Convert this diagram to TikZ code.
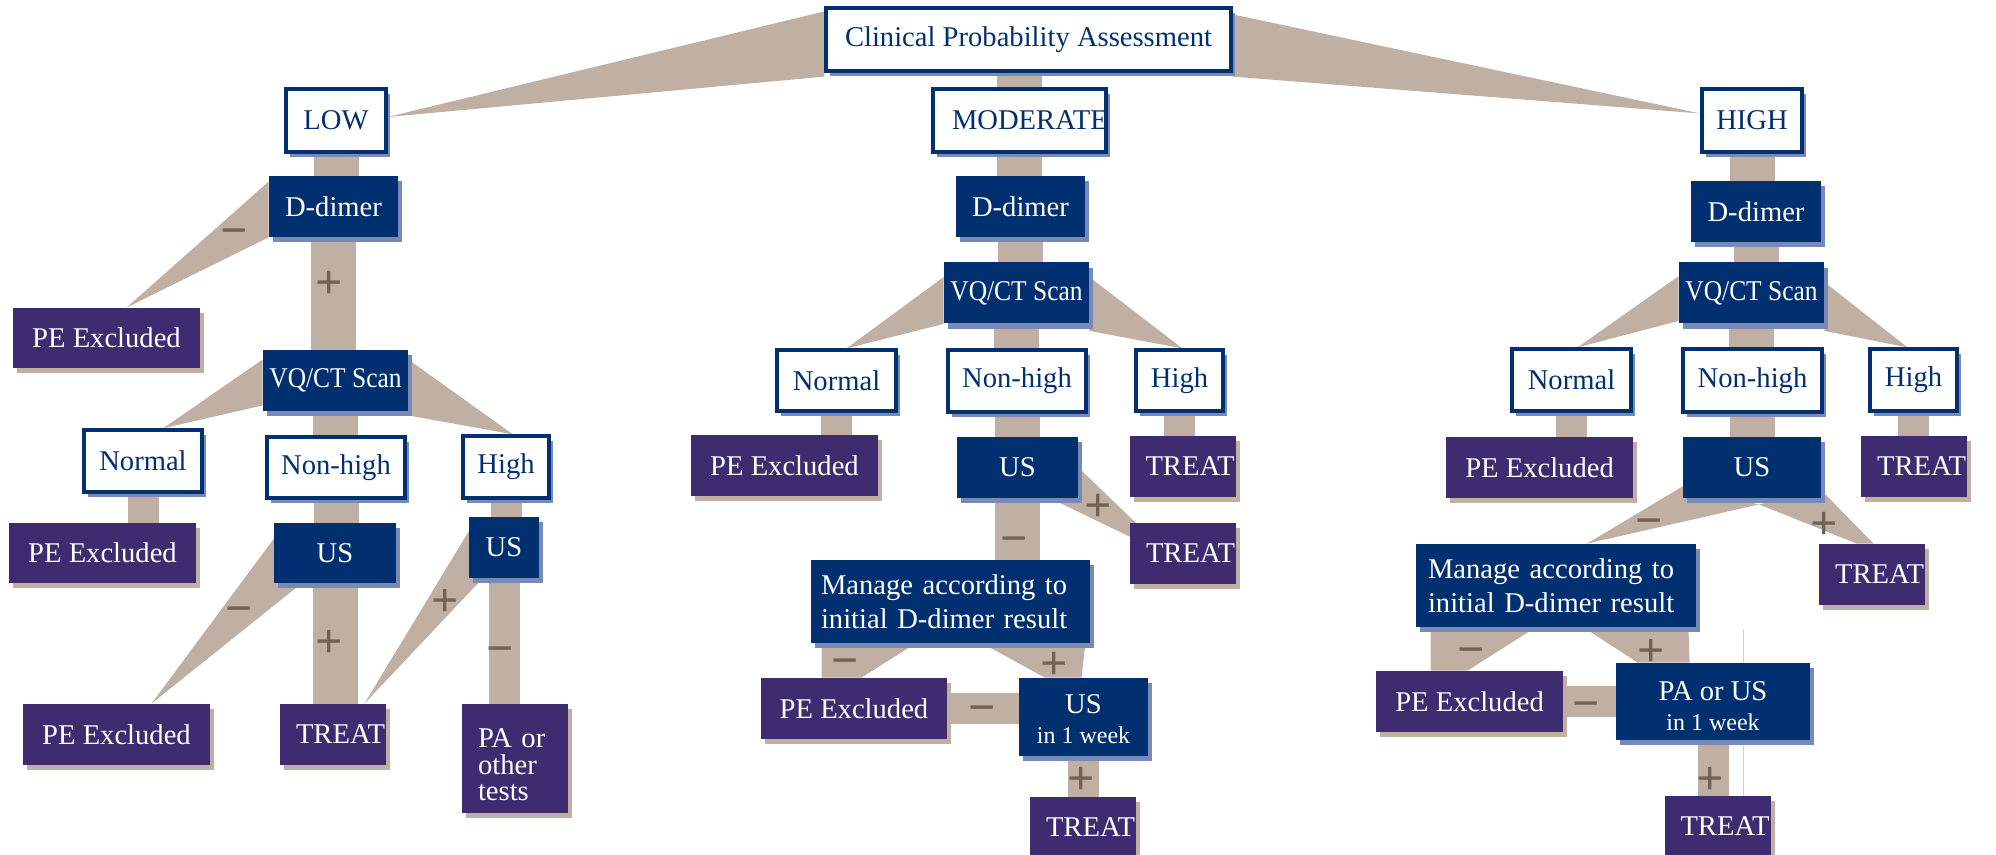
\documentclass[tikz,border=0pt]{standalone}
\usepackage{fontspec}
\setmainfont{Liberation Serif}
\newfontfamily\narrowfont[FakeStretch=0.89]{Liberation Serif}
\usetikzlibrary{shadows,backgrounds}

\definecolor{navyblue}{RGB}{0,48,112}
\definecolor{deeppurple}{RGB}{63,44,112}
\definecolor{shadeblue}{RGB}{120,137,182}
\definecolor{stemtan}{RGB}{192,176,163}
\definecolor{signbrown}{RGB}{112,99,86}

\begin{document}
\begin{tikzpicture}[
    x=0.5pt,
    y=-0.5pt,
    sz/.style 2 args={
        minimum width=#1*0.5pt,
        minimum height=#2*0.5pt,
    },
    box/.style={
        rectangle,
        inner xsep=2pt,
        inner ysep=2pt,
        font=\fontsize{14.3}{17}\selectfont,
    },
    wbox/.style={
        box,
        draw=navyblue,
        line width=1.6pt,
        fill=white,
        text=navyblue,
        drop shadow={shadow xshift=2pt, shadow yshift=-2.7pt, fill=shadeblue, opacity=1},
    },
    nbox/.style={
        box,
        fill=navyblue,
        text=white,
        drop shadow={shadow xshift=2pt, shadow yshift=-2.7pt, fill=shadeblue, opacity=1},
    },
    pbox/.style={
        box,
        fill=deeppurple,
        text=white,
        drop shadow={shadow xshift=2pt, shadow yshift=-2.7pt, fill=stemtan, opacity=1},
    },
    vq/.style={
        nbox,
        sz={145}{61},
        font=\fontsize{14.3}{17}\narrowfont,
    },
    treat/.style={
        pbox,
        align=left,
        inner xsep=8pt,
        text width=37pt,
        minimum height=30.5pt,
    },
    stem/.style={
        draw=stemtan,
        line width=22.5pt,
    },
    narrowstem/.style={
        draw=stemtan,
        line width=15.5pt,
    },
    wedge/.style={
        fill=stemtan,
    },
    sign/.style={
        text=signbrown,
        inner sep=0pt,
        font=\fontsize{24}{24}\selectfont\bfseries,
        text height=12pt,
        text depth=0pt,
    },
]
    \useasboundingbox (0,0) rectangle (1996,855);

    \node[wbox, sz={405}{63}] (cpa) at (1028.5,39.5) {Clinical Probability Assessment};
    \node[wbox, sz={100}{63}] (low) at (336,120.5) {LOW};
    \node[wbox, sz={173}{63}, align=left, inner xsep=9.5pt, text width=67.5pt] (mod) at (1019.5,120.5) {MODERATE};
    \node[wbox, sz={100}{63}] (high) at (1752,120.5) {HIGH};

    % low
    \node[nbox, sz={129}{61}] (ldd) at (333.5,206.5) {D-dimer};
    \node[pbox, sz={187}{60}] (lpe1) at (106.5,338) {PE Excluded};
    \node[vq] (lvq) at (335.5,380.5) {VQ/CT Scan};
    \node[wbox, sz={118}{62}] (lnorm) at (143,461) {Normal};
    \node[wbox, sz={138}{61}] (lnon) at (336,467.5) {Non-high};
    \node[wbox, sz={86}{62}] (lhigh) at (506,467) {High};
    \node[pbox, sz={187}{60}] (lpe2) at (102.5,553) {PE Excluded};
    \node[nbox, sz={122}{60}] (lus1) at (335,553) {US};
    \node[nbox, sz={70}{61}] (lus2) at (504,547.5) {US};
    \node[pbox, sz={187}{61}] (lpe3) at (116.5,734.5) {PE Excluded};
    \node[treat] (ltreat) at (333,734.5) {TREAT};
    \node[pbox, sz={106}{109}, align=left, inner xsep=8pt, text width=37pt, text height=9.5pt, text depth=20.5pt,
          font=\fontsize{14.3}{13.3}\selectfont] (lpa) at (515,758.5) {PA or\\other\\tests};

    % moderate
    \node[nbox, sz={129}{61}] (mdd) at (1020.5,206.5) {D-dimer};
    \node[vq] (mvq) at (1016.5,293) {VQ/CT Scan};
    \node[wbox, sz={119}{61}] (mnorm) at (836.5,380.5) {Normal};
    \node[wbox, sz={138}{62}] (mnon) at (1017,381) {Non-high};
    \node[wbox, sz={87}{61}] (mhigh) at (1179.5,380.5) {High};
    \node[pbox, sz={187}{61}] (mpe1) at (784.5,465.5) {PE Excluded};
    \node[nbox, sz={121}{61}] (mus) at (1017.5,467.5) {US};
    \node[treat] (mtreat1) at (1182.5,466.5) {TREAT};
    \node[treat] (mtreat2) at (1183,553.5) {TREAT};
    \node[nbox, sz={279}{83}, align=left, inner xsep=5pt, text width=129.5pt] (mman) at (950.5,601.5) {Manage according to\\initial D-dimer result};
    \node[pbox, sz={186}{61}] (mpe2) at (854,708.5) {PE Excluded};
    \node[nbox, sz={129}{78}, align=center, text height=30pt, text depth=4pt] (mus2) at (1083.5,717) {US\\[-2pt]{\fontsize{12}{14}\selectfont in 1 week}};
    \node[treat] (mtreat3) at (1083,827.5) {TREAT};

    % high
    \node[nbox, sz={130}{61}] (hdd) at (1756,211.5) {D-dimer};
    \node[vq] (hvq) at (1751.5,293) {VQ/CT Scan};
    \node[wbox, sz={119}{62}] (hnorm) at (1571.5,380) {Normal};
    \node[wbox, sz={139}{63}] (hnon) at (1752.5,380.5) {Non-high};
    \node[wbox, sz={87}{62}] (hhigh) at (1913.5,380) {High};
    \node[pbox, sz={187}{61}] (hpe1) at (1539.5,467.5) {PE Excluded};
    \node[nbox, sz={138}{61}] (hus) at (1752,467.5) {US};
    \node[treat] (htreat1) at (1914,466.5) {TREAT};
    \node[treat] (htreat2) at (1872,574.5) {TREAT};
    \node[nbox, sz={280}{83}, align=left, inner xsep=6pt, text width=128pt] (hman) at (1556,585.5) {Manage according to\\initial D-dimer result};
    \node[pbox, sz={187}{61}] (hpe2) at (1469.5,701.5) {PE Excluded};
    \node[nbox, sz={194}{77}, align=center, text height=30.5pt, text depth=2pt] (hpa) at (1713,701.5) {PA or US\\[-2pt]{\fontsize{12}{14}\selectfont in 1 week}};
    \node[treat] (htreat3) at (1717.5,826.5) {TREAT};

    \foreach \n/\x/\y/\s in {
        ldd-neg/234/235/−, ldd-pos/329/287/+, lus-neg/239/612/−, lus-pos/329/645/+,
        lustwo-pos/445/604/+, lustwo-neg/500/652/−,
        mus-pos/1098/509/+, mus-neg/1014/542/−, mman-neg/845/664/−, mman-pos/1054/667/+,
        mustwo-neg/982/711/−, mustwo-pos/1081/782/+,
        hus-neg/1649/524/−, hus-pos/1824/527/+, hman-neg/1471/653/−, hman-pos/1651/654/+,
        hpa-neg/1586/707/−, hpa-pos/1710/782/+}
        \node[sign] (\n) at (\x,\y) {\s};

    \begin{scope}[on background layer]
        \foreach \a/\b in {low/ldd, ldd/lvq, lvq/lnon, lnon/lus1, lus1/ltreat,
                           mod/mdd, mdd/mvq, mvq/mnon, mnon/mus, mus/mman,
                           high/hdd, hdd/hvq, hvq/hnon, hnon/hus}
            \draw[stem] (\a.center) -- (\a.center |- \b.center);
        \draw[stem] (mod.center) -- (mod.center |- cpa.center);

        \foreach \a/\b in {lnorm/lpe2, lhigh/lus2, lus2/lpa, mnorm/mpe1, mhigh/mtreat1,
                           mus2/mtreat3, hnorm/hpe1, hhigh/htreat1, hpa/htreat3}
            \draw[narrowstem] (\a.center) -- (\a.center |- \b.center);
        \draw[narrowstem] (mpe2.center) -- (mpe2.center -| mus2.center);
        \draw[narrowstem] (hpe2.center) -- (hpe2.center -| hpa.center);

        \fill[wedge] ([yshift=-2.5pt]cpa.north west) -- ([yshift=-2pt]cpa.south west) -- ([yshift=1.75pt]low.east) -- cycle;
        \fill[wedge] ([yshift=-4pt]cpa.north east) -- ([yshift=-2pt]cpa.south east) -- ([yshift=3.5pt]high.west) -- cycle;

        \fill[wedge] ([yshift=-3pt]ldd.north west) -- (ldd.south west) -- ([xshift=10pt]lpe1.north) -- cycle;
        \fill[wedge] ([yshift=-5pt]lvq.north west) -- ([yshift=3pt]lvq.south west) -- ([xshift=10pt]lnorm.north) -- cycle;
        \fill[wedge] ([yshift=-5pt]lvq.north east) -- ([yshift=-2pt]lvq.south east) -- ([xshift=3.5pt]lhigh.north) -- cycle;
        \fill[wedge] ([yshift=7pt]lus1.west) -- ([xshift=14pt]lus1.south west) -- ([xshift=17.5pt]lpe3.north) -- cycle;
        \fill[wedge] ([yshift=8pt]lus2.west) -- ([xshift=7pt]lus2.south west) -- ([xshift=-11pt]ltreat.north east) -- cycle;

        \fill[wedge] ([yshift=-7.5pt]mvq.north west) -- (mvq.south west) -- ([xshift=5pt]mnorm.north) -- cycle;
        \fill[wedge] ([yshift=-7.5pt]mvq.north east) -- ([yshift=-3.5pt]mvq.south east) -- ([xshift=1.5pt]mhigh.north) -- cycle;
        \fill[wedge] (mus.east) -- ([xshift=3pt]mtreat2.north west) -- ([yshift=-7pt]mtreat2.north west) -- ([xshift=-14pt]mus.south east) -- cycle;
        \fill[wedge] ([xshift=5.5pt]mman.south west) -- ([xshift=52.5pt]mman.south west) -- ([xshift=50.5pt]mpe2.north west) -- ([xshift=30.5pt]mpe2.north west) -- cycle;
        \fill[wedge] ([xshift=86pt]mman.south west) -- ([xshift=-2.5pt]mman.south east) -- ([xshift=-1pt]mus2.north) -- ([xshift=13pt]mus2.north west) -- cycle;

        \fill[wedge] ([yshift=-7pt]hvq.north west) -- ([yshift=1.5pt]hvq.south west) -- ([xshift=3pt]hnorm.north) -- cycle;
        \fill[wedge] ([yshift=-10pt]hvq.north east) -- ([yshift=-3.5pt]hvq.south east) -- ([xshift=-3pt]hhigh.north) -- cycle;
        \fill[wedge] ([yshift=6pt]hus.south west) -- ([xshift=3.5pt,yshift=-3pt]hus.south) -- ([xshift=15.5pt]hman.north) -- cycle;
        \fill[wedge] ([xshift=3.5pt,yshift=-3pt]hus.south) -- ([yshift=4pt]hus.south east) -- ([xshift=27.5pt]htreat2.north west) -- ([xshift=19pt]htreat2.north west) -- cycle;
        \fill[wedge] ([xshift=7.5pt]hman.south west) -- ([xshift=60pt]hman.south west) -- ([xshift=46pt]hpe2.north west) -- ([xshift=27.5pt]hpe2.north west) -- cycle;
        \fill[wedge] ([xshift=84pt]hman.south west) -- ([xshift=-4pt]hman.south east) -- ([xshift=37pt]hpa.north west) -- ([xshift=11pt]hpa.north west) -- cycle;

        \draw[line width=0.4pt, black!18] (1743,629) -- (1743,797);
    \end{scope}
\end{tikzpicture}
\end{document}
